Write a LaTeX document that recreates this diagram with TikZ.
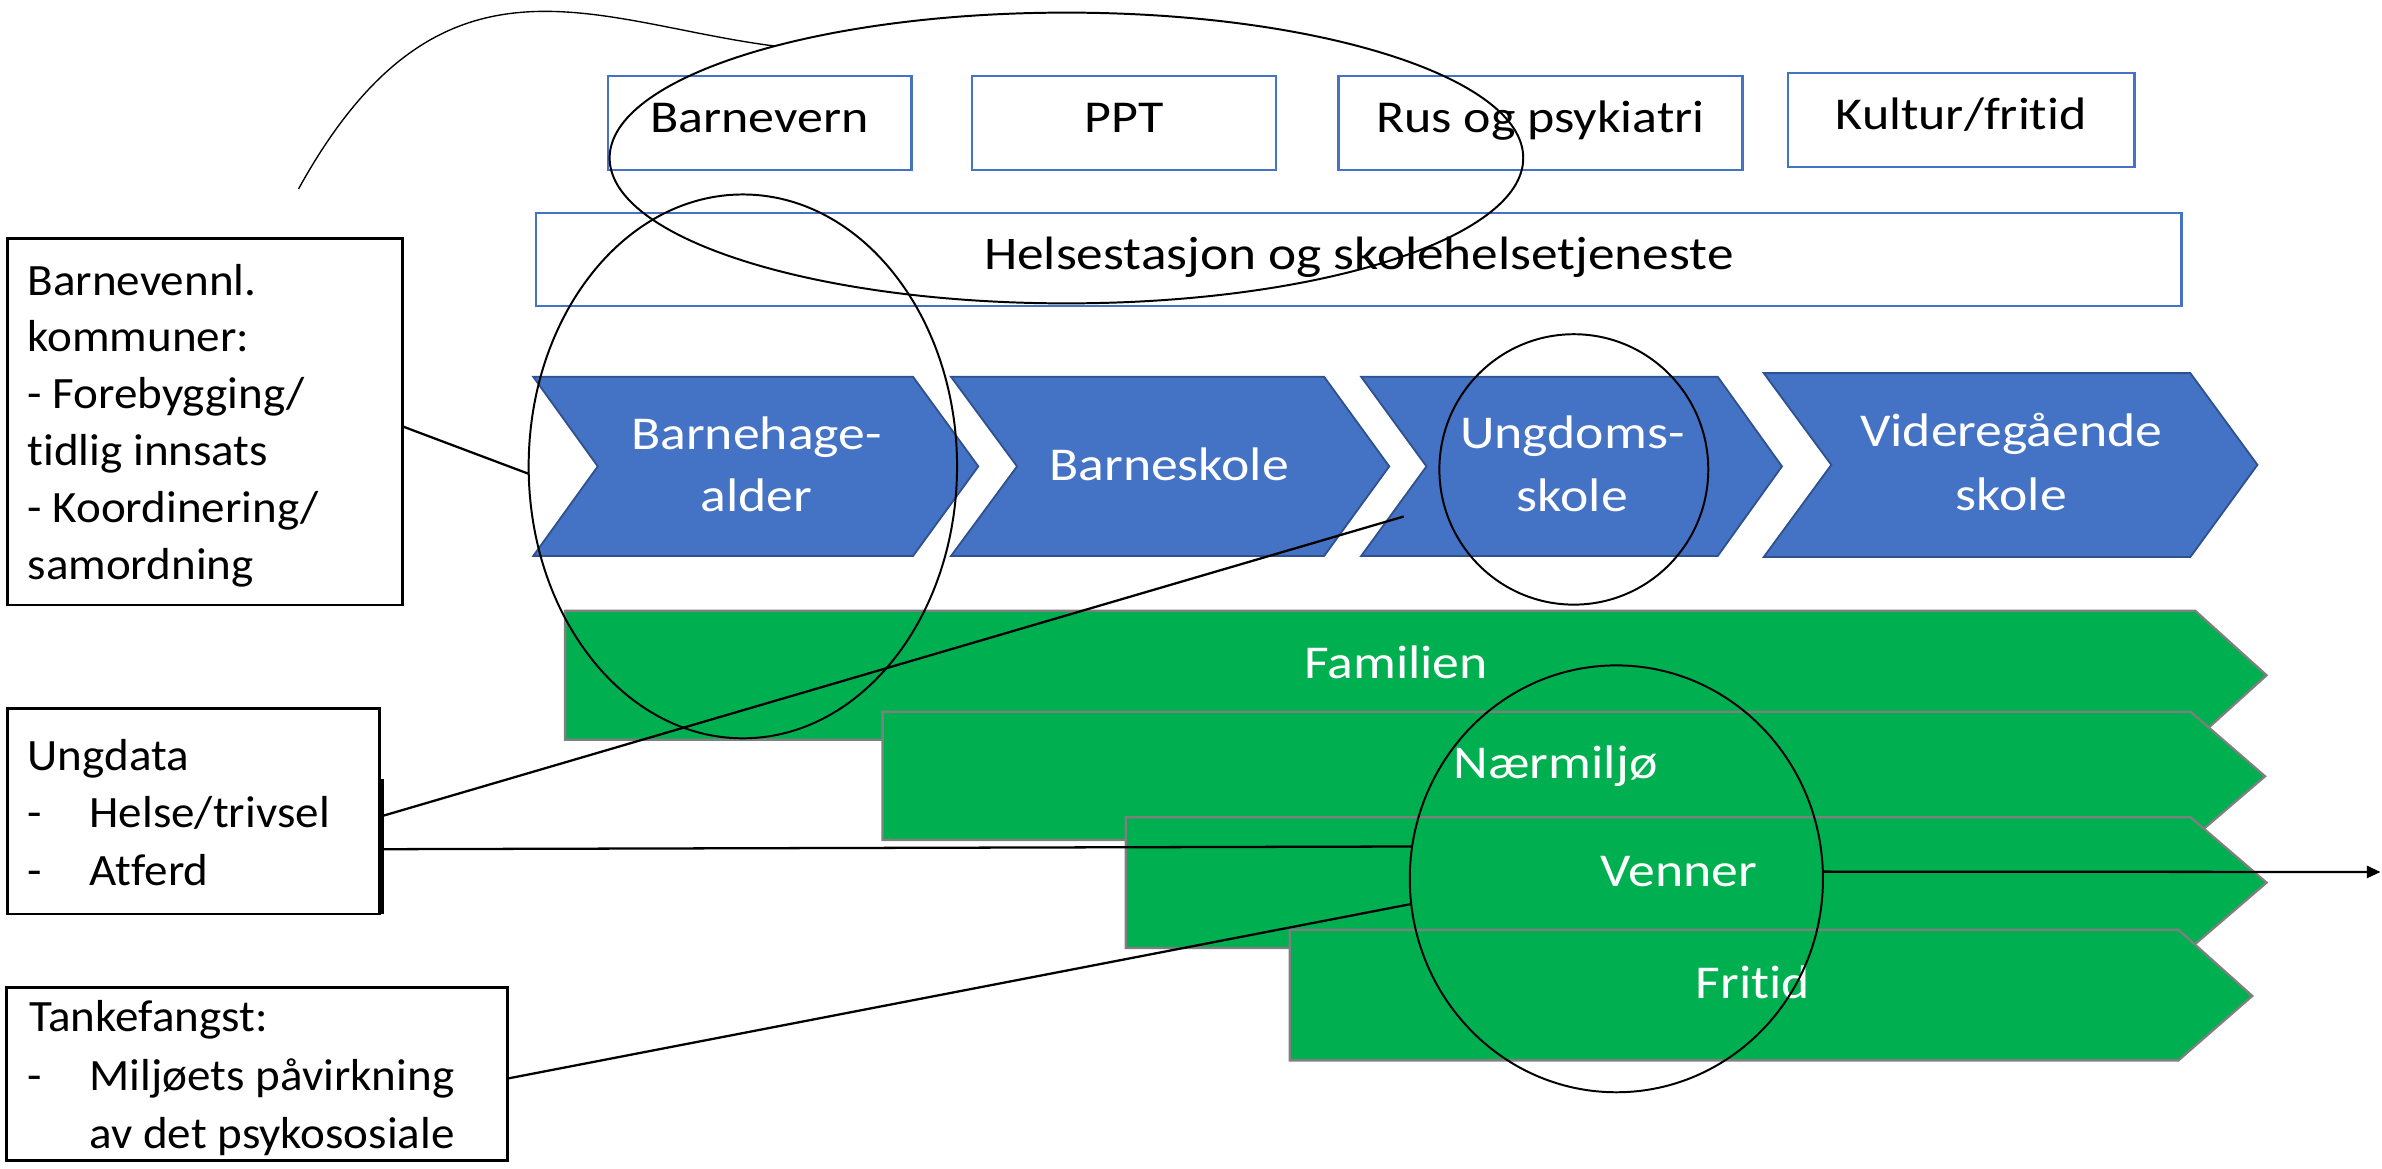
\documentclass[tikz,border=0pt]{standalone}
\usepackage{fontspec}
\setmainfont{Carlito}[FakeStretch=1.14, Ligatures=NoCommon]
\newfontfamily\boxfont{Carlito}[FakeStretch=1.05, Ligatures=NoCommon]
\usetikzlibrary{shapes.geometric, arrows.meta}
\definecolor{pblue}{HTML}{4472C4}
\definecolor{pblueD}{HTML}{2F528F}
\definecolor{pgreen}{HTML}{00B050}
\definecolor{pgray}{HTML}{7F7F7F}
\begin{document}
\begin{tikzpicture}[x=1pt, y=-1pt,
  every node/.style={font=\fontsize{30}{38}\selectfont},
  topbox/.style={draw=pblue, line width=1.5pt, fill=white, inner sep=0pt, outer sep=0pt, text height=21pt, text depth=8pt},
  chev/.style={fill=pblue, draw=pblueD, line width=1.2pt, line join=miter},
  gbar/.style={fill=pgreen, draw=pgray, line width=1.5pt},
  wtxt/.style={text=white, anchor=base, inner sep=0pt, font=\fontsize{31}{38}\selectfont},
  btxt/.style={anchor=base west, inner sep=0pt, font=\boxfont\fontsize{29.5}{37.5}\selectfont},
  infobox/.style={draw=black, line width=1.8pt, inner sep=0pt, outer sep=0pt},
  ell/.style={ellipse, draw=black, line width=1.3pt, inner sep=0pt, outer sep=0pt},
  conn/.style={line width=1.5pt, black},
]
\useasboundingbox (0,0) rectangle (1568,769);

% top service boxes
\node[topbox, minimum width=200pt, minimum height=62pt] (barnevern) at (500,81) {Barnevern};
\node[topbox, minimum width=200pt, minimum height=62pt] (ppt) at (740,81) {PPT};
\node[topbox, minimum width=266pt, minimum height=62pt] (rus) at (1014,81) {Rus og psykiatri};
\node[topbox, minimum width=228pt, minimum height=62pt] (kultur) at (1291,79) {Kultur/fritid};
\node[topbox, minimum width=1083pt, minimum height=61.5pt, font=\fontsize{30.8}{38}\selectfont] (helse) at (894.5,170.75) {Helsestasjon og skolehelsetjeneste};

% blue chevrons
\draw[chev] (351,248) -- (601,248) -- (644,307) -- (601,366) -- (351,366) -- (393.5,307) -- cycle;
\draw[chev] (626,248) -- (871.6,248) -- (914.5,307) -- (871.6,366) -- (626,366) -- (669.5,307) -- cycle;
\draw[chev] (896,248) -- (1130.7,248) -- (1173,307) -- (1130.7,366) -- (896,366) -- (939,307) -- cycle;
\draw[chev] (1161,245.6) -- (1441.8,245.6) -- (1486,306) -- (1441.8,366.7) -- (1161,366.7) -- (1205.5,306) -- cycle;
\node[wtxt] (bh1) at (498,296) {Barnehage-};
\node[wtxt] (bh2) at (498,336.6) {alder};
\node[wtxt] (bs) at (769.6,316) {Barneskole};
\node[wtxt] (us1) at (1035,295) {Ungdoms-};
\node[wtxt] (us2) at (1035,337) {skole};
\node[wtxt] (vg1) at (1324,294) {Videregående};
\node[wtxt] (vg2) at (1324,336) {skole};

% green bars
\draw[gbar] (372,402) -- (1445,402) -- (1492,444.5) -- (1445,487) -- (372,487) -- cycle;
\draw[gbar] (581,468.5) -- (1442,468.5) -- (1491,511) -- (1442,553) -- (581,553) -- cycle;
\draw[gbar] (741,538) -- (1442,538) -- (1492,581) -- (1442,624) -- (741,624) -- cycle;
\draw[gbar] (849,612) -- (1434,612) -- (1482.6,655.6) -- (1434,698) -- (849,698) -- cycle;
\node[wtxt] (fam) at (919,446.8) {Familien};
\node[wtxt] (nm) at (1024,512.6) {Nærmiljø};
\node[wtxt] (ven) at (1105,583.4) {Venner};
\node[wtxt] (fri) at (1154,657) {Fritid};

% left info boxes
\node[infobox, minimum width=260pt, minimum height=241.4pt] (bvbox) at (134.8,277.6) {};
\node[btxt] (bv1) at (18,194.2) {Barnevennl.};
\node[btxt] (bv2) at (18,231.7) {kommuner:};
\node[btxt] (bv3) at (18,269.2) {- Forebygging/};
\node[btxt] (bv4) at (18,306.7) {tidlig innsats};
\node[btxt] (bv5) at (18,344.2) {- Koordinering/};
\node[btxt] (bv6) at (18,381.7) {samordning};

\node[infobox, minimum width=245.3pt, minimum height=135.4pt] (udbox) at (127.4,534) {};
\draw[line width=1.8pt] ([xshift=1.6pt, yshift=21pt]udbox.east) -- ([xshift=1.6pt]udbox.south east);
\node[btxt] (ud1) at (18,507) {Ungdata};
\node[btxt] (ud2) at (18,544.6) {\makebox[40.8pt][l]{-}Helse/trivsel};
\node[btxt] (ud3) at (18,582.6) {\makebox[40.8pt][l]{-}Atferd};

\node[infobox, minimum width=329.5pt, minimum height=113.5pt] (tfbox) at (169.15,707) {};
\node[btxt] (tf1) at (19,679.2) {Tankefangst:};
\node[btxt] (tf2) at (18,717.6) {\makebox[40.8pt][l]{-}Miljøets påvirkning};
\node[btxt] (tf3) at (58.8,756) {av det psykososiale};

% ellipses
\node[ell, minimum width=601.4pt, minimum height=191.4pt] (bigE) at (702,104) {};
\node[ell, minimum width=282pt, minimum height=358pt] (bhE) at (489,307) {};
\node[ell, minimum width=177pt, minimum height=178pt] (usE) at (1036,309) {};
\node[ell, minimum width=272pt, minimum height=281pt] (venE) at (1064,578.5) {};

% connectors
\coordinate (curvestart) at (196.5,124.4);
\draw[line width=0.9pt] (curvestart) .. controls (290,-45) and (390,15) .. (bigE.159);
\draw[conn] ([yshift=-3pt]bvbox.east) -- (bhE.182);
\coordinate (usend) at (924,340);
\draw[conn] ([yshift=-3.6pt]udbox.east) -- (usend);
\draw[conn] ([yshift=-25pt]udbox.east) -- (venE.171);
\draw[conn] ([yshift=-3pt]tfbox.east) -- (venE.187);
\coordinate (arrend) at (1567,574);
\draw[conn, -{Triangle[length=9pt,width=8pt]}] (venE.2) -- (arrend);
\end{tikzpicture}
\end{document}
